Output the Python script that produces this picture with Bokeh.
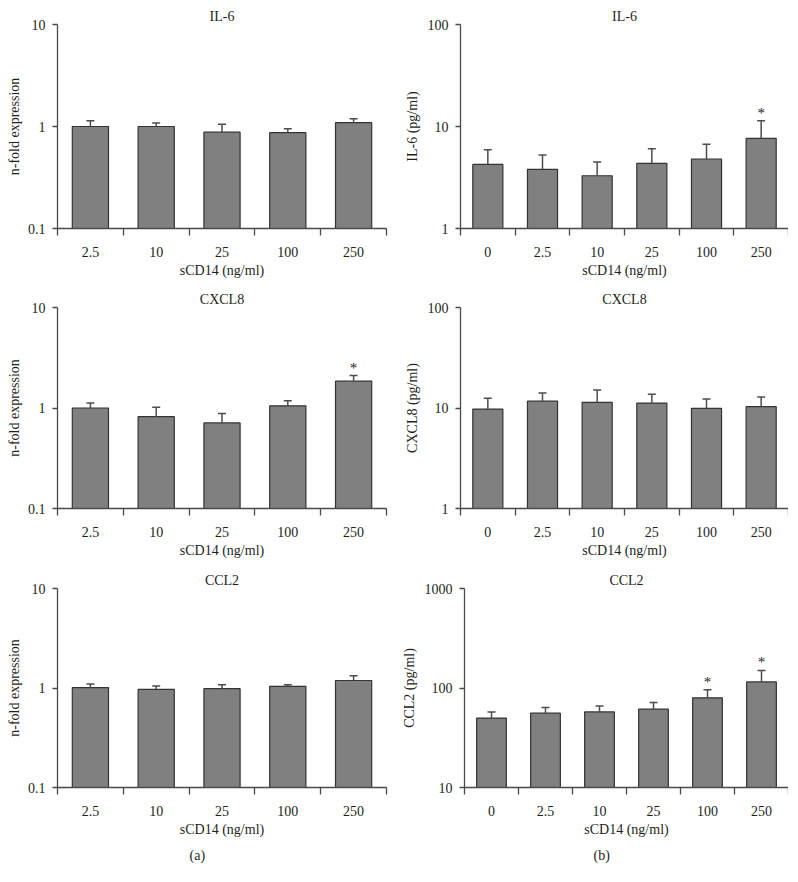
import numpy as np
from bokeh.plotting import figure
from bokeh.layouts import column, row
from bokeh.models import Range1d, FixedTicker, NumeralTickFormatter, Title, ColumnDataSource
from bokeh.embed import file_html
from bokeh.resources import INLINE
from bokeh.core.properties import value

# ---------------- data ----------------
doses_a = ["2.5", "10", "25", "100", "250"]
doses_b = ["0", "2.5", "10", "25", "100", "250"]

il6_fold = [1.00, 1.00, 0.88, 0.87, 1.09]
il6_fold_upper = [1.14, 1.08, 1.05, 0.95, 1.19]
cxcl8_fold = [1.00, 0.82, 0.71, 1.05, 1.85]
cxcl8_fold_upper = [1.12, 1.02, 0.88, 1.18, 2.10]
ccl2_fold = [1.01, 0.97, 0.985, 1.04, 1.19]
ccl2_fold_upper = [1.10, 1.05, 1.08, 1.08, 1.33]

il6_pg = [4.25, 3.80, 3.29, 4.35, 4.80, 7.66]
il6_pg_upper = [5.90, 5.25, 4.48, 6.05, 6.68, 11.4]
cxcl8_pg = [9.75, 11.7, 11.4, 11.2, 9.90, 10.3]
cxcl8_pg_upper = [12.5, 14.1, 15.1, 13.7, 12.3, 12.9]
ccl2_pg = [49.9, 55.9, 57.5, 61.2, 79.6, 115.0]
ccl2_pg_upper = [57.5, 63.5, 65.9, 71.7, 96.2, 150.0]

sig_il6_fold = []
sig_cxcl8_fold = ["250"]
sig_ccl2_fold = []
sig_il6_pg = ["250"]
sig_cxcl8_pg = []
sig_ccl2_pg = ["100", "250"]

yrange_fold = (0.1, 10)
yrange_il6 = (1, 100)
yrange_cxcl8 = (1, 100)
yrange_ccl2 = (10, 1000)

xlabel = "sCD14 (ng/ml)"

# ---------------- style ----------------
FONT = "Liberation Serif"
AXIS_COLOR = "#4a4a4a"
TEXT_COLOR = "#231f20"
BAR_FILL = "#808080"
BAR_LINE = "#333333"
ERR_COLOR = "#4d4d4d"
FS = "14px"


def panel(cats, mean, upper, yr, title, ylabel, sig, side, bt, bb, tag=None):
    n = len(cats)
    centers = [i + 0.5 for i in range(n)]
    bounds = list(range(n + 1))
    if side == "a":
        bl, br, fw = 55, 12, 329
    else:
        bl, br, fw = 62, 0, 328
    fh = 204
    p = figure(x_range=Range1d(0, n), y_range=Range1d(*yr), y_axis_type="log",
               width=bl + fw + br, height=bt + fh + bb,
               min_border_left=bl, min_border_right=br,
               min_border_top=bt, min_border_bottom=bb,
               output_backend="svg", toolbar_location=None)
    p.outline_line_color = None
    p.xgrid.grid_line_color = None
    p.ygrid.grid_line_color = None
    p.background_fill_color = "white"
    p.border_fill_color = "white"

    p.title.text = title
    p.title.align = "center"
    p.title.text_font = FONT
    p.title.text_font_style = "normal"
    p.title.text_font_size = FS
    p.title.text_color = TEXT_COLOR
    p.title.standoff = 2

    src = ColumnDataSource(dict(x=centers, top=mean, up=upper))
    p.vbar(x="x", top="top", bottom=yr[0], width=0.55, source=src,
           fill_color=BAR_FILL, line_color=BAR_LINE, line_width=1.2)
    p.segment(x0="x", y0="top", x1="x", y1="up", source=src,
              line_color=ERR_COLOR, line_width=1.5)
    p.scatter(x="x", y="up", marker="dash", size=8, source=src,
              line_color=ERR_COLOR, line_width=1.5)

    if sig:
        sx = [centers[cats.index(c)] for c in sig]
        sy = [upper[cats.index(c)] for c in sig]
        p.text(x=sx, y=sy, text=value("*"), text_font=value(FONT),
               text_font_size="15px", text_align="center", text_baseline="bottom",
               text_color=TEXT_COLOR, y_offset=0)

    # x axis
    xa = p.xaxis[0]
    xa.ticker = FixedTicker(ticks=centers, minor_ticks=bounds)
    xa.major_label_overrides = {c: lab for c, lab in zip(centers, cats)}
    xa.major_tick_out = 0
    xa.major_tick_in = 0
    xa.major_tick_line_color = None
    xa.minor_tick_out = 7
    xa.minor_tick_in = 0
    xa.minor_tick_line_color = AXIS_COLOR
    xa.minor_tick_line_width = 1.3
    xa.axis_line_color = AXIS_COLOR
    xa.axis_line_width = 1.3
    xa.major_label_standoff = 11
    xa.major_label_text_font = FONT
    xa.major_label_text_font_size = FS
    xa.major_label_text_color = TEXT_COLOR
    xa.axis_label = xlabel
    xa.axis_label_standoff = 3
    xa.axis_label_text_font = FONT
    xa.axis_label_text_font_style = "normal"
    xa.axis_label_text_font_size = FS
    xa.axis_label_text_color = TEXT_COLOR

    # y axis
    ya = p.yaxis[0]
    ya.ticker = FixedTicker(ticks=[yr[0], yr[0] * 10, yr[1]], minor_ticks=[])
    ya.formatter = NumeralTickFormatter(format="0.[0]")
    ya.major_tick_out = 5
    ya.major_tick_in = 0
    ya.major_tick_line_color = AXIS_COLOR
    ya.major_tick_line_width = 1.3
    ya.minor_tick_line_color = None
    ya.axis_line_color = AXIS_COLOR
    ya.axis_line_width = 1.3
    ya.major_label_standoff = 7
    ya.major_label_text_font = FONT
    ya.major_label_text_font_size = FS
    ya.major_label_text_color = TEXT_COLOR
    ya.axis_label = ylabel
    ya.axis_label_standoff = 3 if side == "a" else 5
    ya.axis_label_text_font = FONT
    ya.axis_label_text_font_style = "normal"
    ya.axis_label_text_font_size = FS
    ya.axis_label_text_color = TEXT_COLOR

    if tag is not None:
        off = 132 if side == "a" else 129
        p.add_layout(Title(text=tag, align="left", offset=off, text_font=FONT,
                           text_font_style="normal", text_font_size=FS,
                           text_color=TEXT_COLOR, standoff=12), "below")
    return p


a1 = panel(doses_a, il6_fold, il6_fold_upper, yrange_fold, "IL-6", "n-fold expression",
           sig_il6_fold, "a", 19, 52)
b1 = panel(doses_b, il6_pg, il6_pg_upper, yrange_il6, "IL-6", "IL-6 (pg/ml)",
           sig_il6_pg, "b", 19, 52)
a2 = panel(doses_a, cxcl8_fold, cxcl8_fold_upper, yrange_fold, "CXCL8", "n-fold expression",
           sig_cxcl8_fold, "a", 27, 49)
b2 = panel(doses_b, cxcl8_pg, cxcl8_pg_upper, yrange_cxcl8, "CXCL8", "CXCL8 (pg/ml)",
           sig_cxcl8_pg, "b", 27, 49)
a3 = panel(doses_a, ccl2_fold, ccl2_fold_upper, yrange_fold, "CCL2", "n-fold expression",
           sig_ccl2_fold, "a", 28, 76, tag="(a)")
b3 = panel(doses_b, ccl2_pg, ccl2_pg_upper, yrange_ccl2, "CCL2", "CCL2 (pg/ml)",
           sig_ccl2_pg, "b", 28, 76, tag="(b)")

layout = column(row(a1, b1), row(a2, b2), row(a3, b3), margin=(5, 0, 0, 2))

open("out.html", "w").write(file_html(layout, INLINE))
